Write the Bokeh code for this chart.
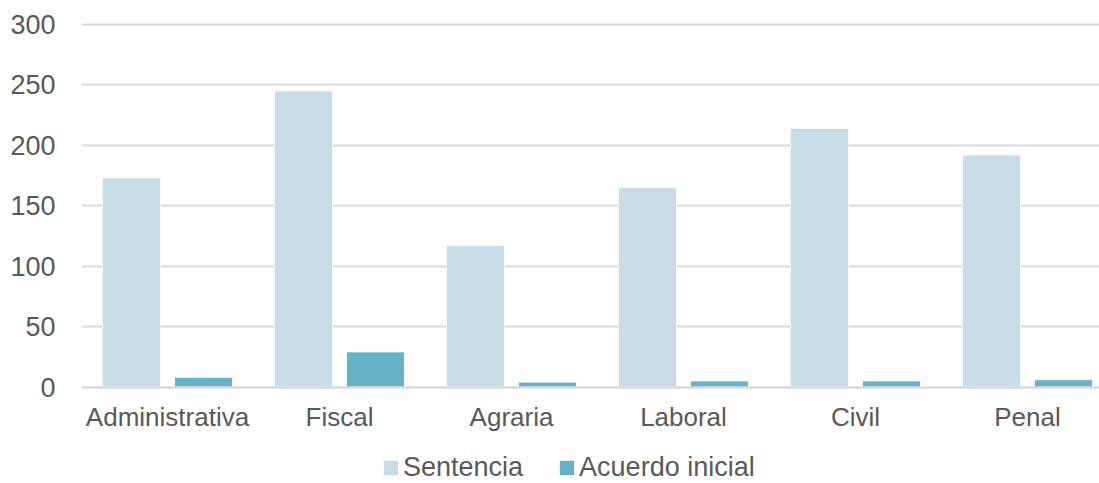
import numpy as np
from bokeh.plotting import figure
from bokeh.models import (ColumnDataSource, Range1d, FixedTicker, Legend, LegendItem)
from bokeh.transform import dodge
from bokeh.embed import file_html
from bokeh.resources import INLINE

categories = ["Administrativa", "Fiscal", "Agraria", "Laboral", "Civil", "Penal"]
sentencia = [173, 245, 117, 165, 214, 192]
acuerdo_inicial = [8, 29, 4, 5, 5, 6]
y_ticks = [0, 50, 100, 150, 200, 250, 300]

x_pos = list(np.arange(len(categories)) + 0.5)
source = ColumnDataSource(dict(x=x_pos, sentencia=sentencia, acuerdo=acuerdo_inicial))

FONT = "Liberation Sans"
TXT = "#595959"
GRID = "#d9d9d9"
C1 = "#c6dce6"
C2 = "#65b2c7"

W, H = 1099, 483
LEFT, TOP = 81, 17
ZERO_PX, SCALE = 386.5, 362.5 / 300.0   # pixel row of value 0, px per unit
CAT_W = 172.0

p = figure(width=W, height=H, output_backend="svg", toolbar_location=None,
           x_range=Range1d(0, (W - LEFT) / CAT_W),
           y_range=Range1d(-(H - ZERO_PX) / SCALE, 300 + (24 - TOP) / SCALE),
           min_border_left=LEFT, min_border_right=0, min_border_top=TOP, min_border_bottom=0)
p.outline_line_color = None
p.background_fill_color = "white"
p.border_fill_color = "white"

bw = 0.337
off = 0.2093
r1 = p.vbar(x=dodge("x", -off), top="sentencia", width=bw, source=source,
            fill_color=C1, line_color="white", line_width=0.8)
r2 = p.vbar(x=dodge("x", off), top="acuerdo", width=bw, source=source,
            fill_color=C2, line_color="white", line_width=0.8)

p.xgrid.grid_line_color = None
p.ygrid.grid_line_color = GRID
p.ygrid.grid_line_width = 1.8
p.ygrid.ticker = FixedTicker(ticks=y_ticks)

p.yaxis.ticker = FixedTicker(ticks=y_ticks)
p.yaxis.axis_line_color = None
p.yaxis.major_tick_line_color = None
p.yaxis.minor_tick_line_color = None
p.yaxis.major_label_text_font = FONT
p.yaxis.major_label_text_font_size = "27px"
p.yaxis.major_label_text_color = TXT
p.yaxis.major_label_standoff = 20

p.xaxis.fixed_location = 0
p.xaxis.ticker = FixedTicker(ticks=x_pos)
p.xaxis.major_label_overrides = {x: c for x, c in zip(x_pos, categories)}
p.xaxis.axis_line_color = GRID
p.xaxis.axis_line_width = 1.8
p.xaxis.major_tick_line_color = None
p.xaxis.minor_tick_line_color = None
p.xaxis.major_label_text_font = FONT
p.xaxis.major_label_text_font_size = "26px"
p.xaxis.major_label_text_color = TXT
p.xaxis.major_label_standoff = 9

legend = Legend(items=[LegendItem(label="Sentencia", renderers=[r1]),
                       LegendItem(label="Acuerdo inicial", renderers=[r2])],
                orientation="horizontal", location=(300, 0),
                padding=0, margin=0, spacing=34,
                glyph_width=19, glyph_height=19, label_standoff=3, label_height=31,
                label_text_font=FONT, label_text_font_size="27px", label_text_color=TXT,
                border_line_color=None, background_fill_alpha=0)
p.add_layout(legend, "center")

open("out.html", "w").write(file_html(p, INLINE))
